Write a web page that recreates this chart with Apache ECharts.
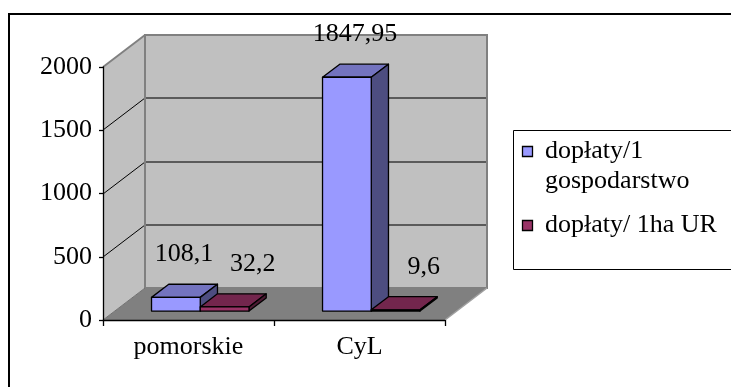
<!DOCTYPE html>
<html>
<head>
<meta charset="utf-8">
<script src="https://cdn.jsdelivr.net/npm/echarts@6/dist/echarts.min.js"></script>
<style>
  html, body { margin: 0; padding: 0; background: #fff; }
  #chart { width: 731px; height: 387px; }
</style>
</head>
<body>
<div id="chart"></div>
<script>
// Chart data
const categories = ['pomorskie', 'CyL'];
const seriesNames = ['dopłaty/1 gospodarstwo', 'dopłaty/ 1ha UR'];
const perFarm = [108.1, 1847.95];
const perHectare = [32.2, 9.6];
const yTicks = [0, 500, 1000, 1500, 2000];

// Pseudo-3D look
const FONT = 'Liberation Serif';
const FONT_SIZE = 26;
const DEPTH = [42, -32];      // offset from the front plane to the back wall
const BAR_PLANE = 0.28;       // where the bar fronts sit within the depth
const BAR_DEPTH = 0.41;       // bar thickness as share of the depth
const BAR_FRAC = 0.285;       // bar width as share of a category band
const LABEL_SHIFT = [8, 28];  // horizontal nudge of value labels per series
const LABEL_RISE = 30;

const palette = [
  { front: '#9999ff', top: '#7373bf', side: '#4d4d80' },
  { front: '#993366', top: '#73264d', side: '#4d1a33' }
];

const fmt = v => String(v).replace('.', ',');

function wallsRenderer(params, api) {
  const cs = params.coordSys;
  const x0 = cs.x, x1 = cs.x + cs.width, y0 = cs.y, y1 = cs.y + cs.height;
  const dx = DEPTH[0], dy = DEPTH[1];
  const yMax = yTicks[yTicks.length - 1];
  const kids = [];
  // floor
  kids.push({ type: 'polygon', shape: { points: [[x0, y1], [x1, y1], [x1 + dx, y1 + dy], [x0 + dx, y1 + dy]] },
    style: { fill: '#808080', stroke: null } });
  // side wall
  kids.push({ type: 'polygon', shape: { points: [[x0, y1], [x0, y0], [x0 + dx, y0 + dy], [x0 + dx, y1 + dy]] },
    style: { fill: '#c0c0c0', stroke: null } });
  // back wall
  kids.push({ type: 'rect', shape: { x: x0 + dx, y: y0 + dy, width: x1 - x0, height: y1 - y0 },
    style: { fill: '#c0c0c0', stroke: null } });
  // gridlines
  yTicks.forEach(v => {
    if (v <= 0 || v >= yMax) return;
    const y = Math.round(api.coord([0, v])[1]);
    kids.push({ type: 'line', shape: { x1: x0 + dx, y1: y + dy, x2: x1 + dx, y2: y + dy },
      style: { stroke: '#3a3a3a', lineWidth: 1.6 } });
    kids.push({ type: 'line', shape: { x1: x0, y1: y, x2: x0 + dx, y2: y + dy },
      style: { stroke: '#000', lineWidth: 1 } });
  });
  // wall edges
  kids.push({ type: 'rect', shape: { x: x0 + dx, y: y0 + dy, width: x1 - x0, height: y1 - y0 },
    style: { fill: null, stroke: '#808080', lineWidth: 2 } });
  kids.push({ type: 'line', shape: { x1: x0, y1: y0, x2: x0 + dx, y2: y0 + dy },
    style: { stroke: '#808080', lineWidth: 2 } });
  kids.push({ type: 'line', shape: { x1: x0, y1: y1, x2: x0 + dx, y2: y1 + dy },
    style: { stroke: '#707070', lineWidth: 1 } });
  kids.push({ type: 'line', shape: { x1: x1, y1: y1, x2: x1 + dx, y2: y1 + dy },
    style: { stroke: '#a0a0a0', lineWidth: 1.5 } });
  return { type: 'group', children: kids };
}

function barRenderer(si) {
  return function (params, api) {
    const cat = api.value(0), v = api.value(1);
    const base = api.coord([cat, 0]);
    const topP = api.coord([cat, v]);
    const band = api.size([1, 0])[0];
    const w = band * BAR_FRAC;
    const ox = DEPTH[0] * BAR_PLANE, oy = DEPTH[1] * BAR_PLANE;
    const dx = DEPTH[0] * BAR_DEPTH, dy = DEPTH[1] * BAR_DEPTH;
    const xL = base[0] + ox + (si === 0 ? -w : 0);
    const xR = xL + w;
    const yB = base[1] + oy, yT = topP[1] + oy;
    const c = palette[si];
    const edge = { stroke: '#000', lineWidth: 1.3, lineJoin: 'round' };
    return {
      type: 'group',
      children: [
        { type: 'polygon', shape: { points: [[xL, yT], [xR, yT], [xR + dx, yT + dy], [xL + dx, yT + dy]] },
          style: Object.assign({ fill: c.top }, edge) },
        { type: 'polygon', shape: { points: [[xR, yT], [xR + dx, yT + dy], [xR + dx, yB + dy], [xR, yB]] },
          style: Object.assign({ fill: c.side }, edge) },
        { type: 'rect', shape: { x: xL, y: yT, width: w, height: yB - yT },
          style: Object.assign({ fill: c.front }, edge) },
        { type: 'text', x: (xL + xR) / 2 + LABEL_SHIFT[si], y: yT + dy - LABEL_RISE,
          style: { text: fmt(v), fill: '#000', font: FONT_SIZE + 'px "' + FONT + '"',
                   align: 'center', verticalAlign: 'middle' } }
      ]
    };
  };
}

// Legend drawn as a framed box on the right
const graphics = [
  { type: 'rect', shape: { x: 9, y: 14, width: 760, height: 420 },
    style: { fill: null, stroke: '#000', lineWidth: 2 }, z: 10 },
  { type: 'rect', shape: { x: 513.5, y: 130.5, width: 240, height: 139 },
    style: { fill: null, stroke: '#000', lineWidth: 1 }, z: 10 }
];
const legendTops = [136, 210];
seriesNames.forEach((name, i) => {
  graphics.push({ type: 'rect', z: 11, shape: { x: 522.5, y: legendTops[i] + 10.5, width: 10, height: 10 },
    style: { fill: palette[i].front, stroke: '#000', lineWidth: 1.3 } });
  graphics.push({ type: 'text', z: 11, x: 545, y: legendTops[i],
    style: { text: name, fill: '#000', font: FONT_SIZE + 'px "' + FONT + '"', width: 200,
             overflow: 'break', lineHeight: 30, verticalAlign: 'top', align: 'left' } });
});

const chart = echarts.init(document.getElementById('chart'), null, { renderer: 'canvas' });
chart.setOption({
  animation: false,
  backgroundColor: '#fff',
  grid: { left: 103, top: 67, width: 342, height: 253, outerBoundsMode: 'none', containLabel: false },
  xAxis: {
    type: 'category', data: categories, z: 5,
    axisLine: { show: true, lineStyle: { color: '#000', width: 1.3 } },
    axisTick: { show: true, length: 6, lineStyle: { color: '#000', width: 1.3 } },
    axisLabel: { fontFamily: FONT, fontSize: FONT_SIZE, color: '#000', margin: 14 },
    splitLine: { show: false }
  },
  yAxis: {
    type: 'value', min: yTicks[0], max: yTicks[yTicks.length - 1], interval: 500, z: 5,
    axisLine: { show: true, lineStyle: { color: '#000', width: 1.3 } },
    axisTick: { show: true, length: 4, lineStyle: { color: '#000', width: 1.3 } },
    axisLabel: { fontFamily: FONT, fontSize: FONT_SIZE, color: '#000', margin: 11,
                 formatter: v => String(v) },
    splitLine: { show: false }
  },
  graphic: graphics,
  series: [
    { type: 'custom', name: 'walls', clip: false, z: 1, silent: true,
      data: [[0, 0]], renderItem: wallsRenderer },
    { type: 'custom', name: seriesNames[0], clip: false, z: 3,
      data: categories.map((c, i) => [i, perFarm[i]]), renderItem: barRenderer(0) },
    { type: 'custom', name: seriesNames[1], clip: false, z: 4,
      data: categories.map((c, i) => [i, perHectare[i]]), renderItem: barRenderer(1) }
  ]
});
</script>
</body>
</html>
